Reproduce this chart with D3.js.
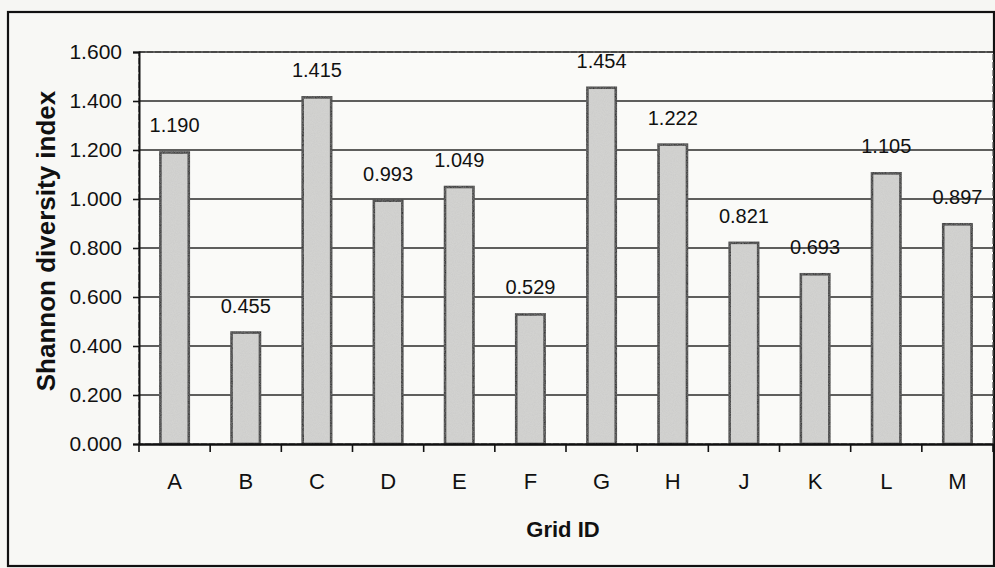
<!DOCTYPE html>
<html>
<head>
<meta charset="utf-8">
<script src="https://cdn.jsdelivr.net/npm/d3@7/dist/d3.min.js"></script>
<style>
  html, body { margin: 0; padding: 0; background: #f6f6f3; }
  svg { display: block; }
  text { font-family: "Liberation Sans", Arial, sans-serif; fill: #111; }
</style>
</head>
<body>
<svg id="chart" width="995" height="568"></svg>
<script>
const categories = ["A", "B", "C", "D", "E", "F", "G", "H", "J", "K", "L", "M"];
const values = [1.190, 0.455, 1.415, 0.993, 1.049, 0.529, 1.454, 1.222, 0.821, 0.693, 1.105, 0.897];
const yTicks = [0, 0.2, 0.4, 0.6, 0.8, 1.0, 1.2, 1.4, 1.6];
const xTitle = "Grid ID";
const yTitle = "Shannon diversity index";

const svg = d3.select("#chart");
const m = { left: 139, top: 52, right: 993, bottom: 444 };

// outer frame
svg.append("rect")
  .attr("x", 8).attr("y", 12)
  .attr("width", 986).attr("height", 554)
  .attr("fill", "#f8f8f5")
  .attr("stroke", "#111").attr("stroke-width", 2.2);

const x = d3.scaleBand().domain(categories).range([m.left, m.right]).paddingInner(0.6).paddingOuter(0.3);
const xb = d3.scaleBand().domain(categories).range([m.left, m.right]).padding(0);
const y = d3.scaleLinear().domain([0, 1.6]).range([m.bottom, m.top]);

// plot area
svg.append("rect")
  .attr("x", m.left).attr("y", m.top)
  .attr("width", m.right - m.left).attr("height", m.bottom - m.top)
  .attr("fill", "#fafaf8")
  .attr("stroke", "#555").attr("stroke-width", 1.2)
  .attr("stroke-dasharray", "6,2");

// gridlines
svg.append("g").selectAll("line")
  .data(yTicks.filter(d => d > 0))
  .join("line")
  .attr("x1", m.left).attr("x2", m.right)
  .attr("y1", d => y(d)).attr("y2", d => y(d))
  .attr("stroke", "#2a2a2a").attr("stroke-width", 1.5);

// grain filter for bars
const defs = svg.append("defs");
const f = defs.append("filter").attr("id", "grain")
  .attr("x", "-20%").attr("y", "-5%").attr("width", "140%").attr("height", "110%");
f.append("feTurbulence").attr("type", "fractalNoise").attr("baseFrequency", 0.9).attr("numOctaves", 2).attr("seed", 3).attr("result", "n");
f.append("feColorMatrix").attr("in", "n").attr("type", "matrix")
  .attr("values", "0 0 0 0 0.5  0 0 0 0 0.5  0 0 0 0 0.5  0 0 0 0.4 0").attr("result", "g");
f.append("feComposite").attr("in", "g").attr("in2", "SourceGraphic").attr("operator", "in").attr("result", "g2");
f.append("feMerge").call(s => { s.append("feMergeNode").attr("in", "SourceGraphic"); s.append("feMergeNode").attr("in", "g2"); });

const data = categories.map((c, i) => ({ c, v: values[i] }));

// bars
svg.append("g").selectAll("rect")
  .data(data)
  .join("rect")
  .attr("x", d => x(d.c))
  .attr("y", d => y(d.v))
  .attr("width", x.bandwidth())
  .attr("height", d => y(0) - y(d.v))
  .attr("fill", "#d5d5d3")
  .attr("filter", "url(#grain)")
  .attr("stroke", "#111").attr("stroke-width", 2.5);

// value labels
svg.append("g").selectAll("text")
  .data(data)
  .join("text")
  .attr("x", d => x(d.c) + x.bandwidth() / 2)
  .attr("y", d => y(d.v) - 20)
  .attr("text-anchor", "middle")
  .attr("font-size", 20)
  .text(d => d3.format(".3f")(d.v));

// y axis
const yAxis = svg.append("g").attr("transform", `translate(${m.left},0)`)
  .call(d3.axisLeft(y).tickValues(yTicks).tickFormat(d3.format(".3f")).tickSize(6).tickPadding(11));
yAxis.select(".domain").attr("stroke", "#111").attr("stroke-width", 2);
yAxis.selectAll(".tick line").attr("stroke", "#111").attr("stroke-width", 1.6);
yAxis.selectAll(".tick text").attr("font-size", 21).attr("font-family", "Liberation Sans, Arial, sans-serif").attr("fill", "#111");

// x axis
const xAxis = svg.append("g").attr("transform", `translate(0,${m.bottom})`)
  .call(d3.axisBottom(xb).tickSize(0).tickPadding(29));
xAxis.select(".domain").attr("stroke", "#111").attr("stroke-width", 2.4);
xAxis.selectAll(".tick text").attr("font-size", 22).attr("font-family", "Liberation Sans, Arial, sans-serif").attr("fill", "#111");
svg.append("g").selectAll("line")
  .data(categories.slice(1).concat(["__end"]))
  .join("line")
  .attr("x1", d => d === "__end" ? m.right : xb(d))
  .attr("x2", d => d === "__end" ? m.right : xb(d))
  .attr("y1", m.bottom).attr("y2", m.bottom + 8)
  .attr("stroke", "#111").attr("stroke-width", 1.6);
svg.append("line")
  .attr("x1", m.left).attr("x2", m.left)
  .attr("y1", m.bottom).attr("y2", m.bottom + 8)
  .attr("stroke", "#111").attr("stroke-width", 1.6);

// titles
svg.append("text")
  .attr("x", 563)
  .attr("y", 537)
  .attr("text-anchor", "middle")
  .attr("font-size", 22).attr("font-weight", "bold")
  .text(xTitle);

svg.append("text")
  .attr("transform", `translate(55,241) rotate(-90)`)
  .attr("text-anchor", "middle")
  .attr("font-size", 26).attr("font-weight", "bold")
  .text(yTitle);
</script>
</body>
</html>
